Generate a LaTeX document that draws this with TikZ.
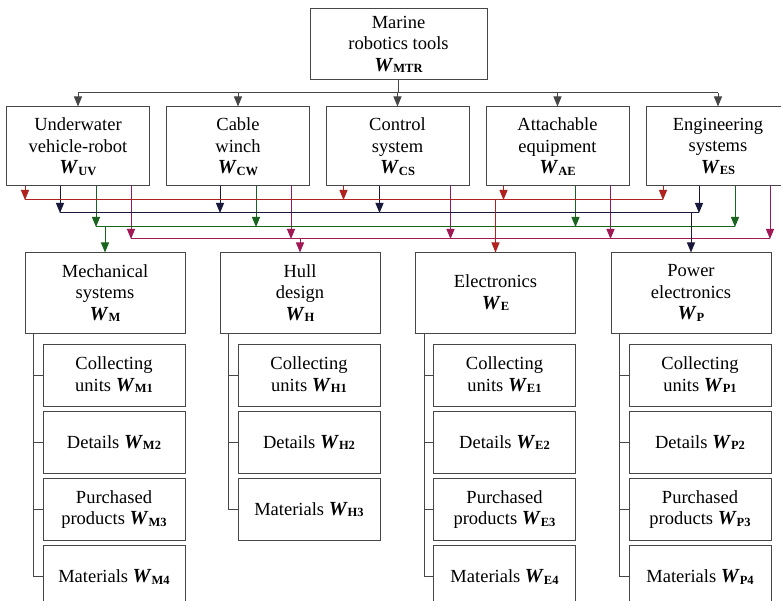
\documentclass[tikz,border=0pt]{standalone}
\usepackage{fontspec}
\setmainfont{Liberation Serif}
\usepackage{tikz}
\usetikzlibrary{arrows.meta, positioning, calc}
\definecolor{boxGray}{RGB}{70, 70, 70}
\definecolor{busRed}{RGB}{175, 35, 30}
\definecolor{busNavy}{RGB}{25, 25, 60}
\definecolor{busGreen}{RGB}{25, 100, 30}
\definecolor{busPurple}{RGB}{160, 25, 85}
\newcommand{\wsub}[1]{{\fontsize{20}{20}\selectfont\textbf{\textit{W}}}\raisebox{-1.5pt}{\fontsize{12.5}{12.5}\selectfont\bfseries #1}}
\newcommand{\boxfont}{\fontsize{18.5}{21.5}\selectfont}

\begin{document}
\begin{tikzpicture}[x=1pt, y=-1pt,
    box/.style={draw=boxGray, line width=1pt, align=center, font=\boxfont, inner sep=2pt},
    rootbox/.style={box, minimum width=177pt, minimum height=71pt},
    partbox/.style={box, minimum width=143pt, minimum height=79pt},
    areabox/.style={box, minimum width=160pt, minimum height=80pt},
    subbox/.style={box, minimum width=142pt, minimum height=62pt},
    tip/.style={-{Triangle[length=10pt, width=8pt]}},
    link/.style={draw=boxGray, line width=1pt},
    bus/.style={line width=1pt}]
  \useasboundingbox (0,0) rectangle (781,601);
  \clip (0,0) rectangle (781,601);

  % root
  \node[rootbox] (mtr) at (398.5,44.5) {Marine\\robotics tools\\\wsub{MTR}};

  % product parts
  \node[partbox] (uv) at (78,146.5) {Underwater\\vehicle-robot\\\wsub{UV}};
  \node[partbox] (cw) at (238,146.5) {Cable\\winch\\\wsub{CW}};
  \node[partbox] (cs) at (397.5,146.5) {Control\\system\\\wsub{CS}};
  \node[partbox] (ae) at (557.5,146.5) {Attachable\\equipment\\\wsub{AE}};
  \node[partbox] (es) at (718,146.5) {Engineering\\systems\\\wsub{ES}};

  \coordinate (topbus) at (0,93);
  \draw[link] (mtr.south) -- (mtr.south |- topbus);
  \draw[link] (uv.north |- topbus) -- (es.north |- topbus);
  \foreach \n in {uv, cw, cs, ae, es}
    \draw[link, tip] (\n.north |- topbus) -- (\n.north);

  % areas
  \node[areabox] (mech) at (105,293) {Mechanical\\systems\\\wsub{M}};
  \node[areabox] (hull) at (300,293) {Hull\\design\\\wsub{H}};
  \node[areabox] (elec) at (495.5,293) {Electronics\\\wsub{E}};
  \node[areabox] (pow) at (691,293) {Power\\electronics\\\wsub{P}};

  % colour buses
  \coordinate (busR) at (0,200);
  \coordinate (busN) at (0,213);
  \coordinate (busG) at (0,227);
  \coordinate (busP) at (0,239);

  \foreach \n/\c/\o/\col in {uv/R/19/busRed, uv/N/54/busNavy, uv/G/90/busGreen, uv/P/125/busPurple,
      cw/N/54/busNavy, cw/G/90/busGreen, cw/P/125/busPurple,
      cs/R/18/busRed, cs/N/54/busNavy, cs/P/125/busPurple,
      ae/R/18/busRed, ae/G/90/busGreen, ae/P/125/busPurple,
      es/R/17/busRed, es/N/53/busNavy, es/G/89/busGreen, es/P/124/busPurple}
    \draw[bus, tip, \col] ([xshift=\o pt]\n.south west) -- ([xshift=\o pt]\n.south west |- bus\c);

  \draw[bus, busRed] ([xshift=19pt]uv.south west |- busR) -- ([xshift=17pt]es.south west |- busR);
  \draw[bus, busNavy] ([xshift=54pt]uv.south west |- busN) -- ([xshift=53pt]es.south west |- busN);
  \draw[bus, busGreen] ([xshift=90pt]uv.south west |- busG) -- ([xshift=89pt]es.south west |- busG);
  \draw[bus, busPurple] ([xshift=125pt]uv.south west |- busP) -- ([xshift=124pt]es.south west |- busP);

  \draw[bus, tip, busGreen] (mech.north |- busG) -- (mech.north);
  \draw[bus, tip, busPurple] (hull.north |- busP) -- (hull.north);
  \draw[bus, tip, busRed] (elec.north |- busR) -- (elec.north);
  \draw[bus, tip, busNavy] (pow.north |- busN) -- (pow.north);

  % mechanical systems
  \node[subbox, anchor=north east] (m1) at ([yshift=-10pt]mech.south east) {Collecting\\units \wsub{M1}};
  \node[subbox, below=4.3pt of m1] (m2) {Details \wsub{M2}};
  \node[subbox, below=4.3pt of m2] (m3) {Purchased\\products \wsub{M3}};
  \node[subbox, below=4.3pt of m3] (m4) {Materials \wsub{M4}};

  % hull design
  \node[subbox, anchor=north east] (h1) at ([yshift=-10pt]hull.south east) {Collecting\\units \wsub{H1}};
  \node[subbox, below=4.3pt of h1] (h2) {Details \wsub{H2}};
  \node[subbox, below=4.3pt of h2] (h3) {Materials \wsub{H3}};

  % electronics
  \node[subbox, anchor=north east] (e1) at ([yshift=-10pt]elec.south east) {Collecting\\units \wsub{E1}};
  \node[subbox, below=4.3pt of e1] (e2) {Details \wsub{E2}};
  \node[subbox, below=4.3pt of e2] (e3) {Purchased\\products \wsub{E3}};
  \node[subbox, below=4.3pt of e3] (e4) {Materials \wsub{E4}};

  % power electronics
  \node[subbox, anchor=north east] (p1) at ([yshift=-10pt]pow.south east) {Collecting\\units \wsub{P1}};
  \node[subbox, below=4.3pt of p1] (p2) {Details \wsub{P2}};
  \node[subbox, below=4.3pt of p2] (p3) {Purchased\\products \wsub{P3}};
  \node[subbox, below=4.3pt of p3] (p4) {Materials \wsub{P4}};

  % tree lines
  \foreach \a/\s/\last in {mech/m/4, hull/h/3, elec/e/4, pow/p/4} {
    \draw[link] ([xshift=9pt]\a.south west) -- ([xshift=9pt]\a.south west |- \s\last.west);
    \foreach \k in {1,...,\last}
      \draw[link] ([xshift=9pt]\a.south west |- \s\k.west) -- (\s\k.west);
  }
\end{tikzpicture}
\end{document}
